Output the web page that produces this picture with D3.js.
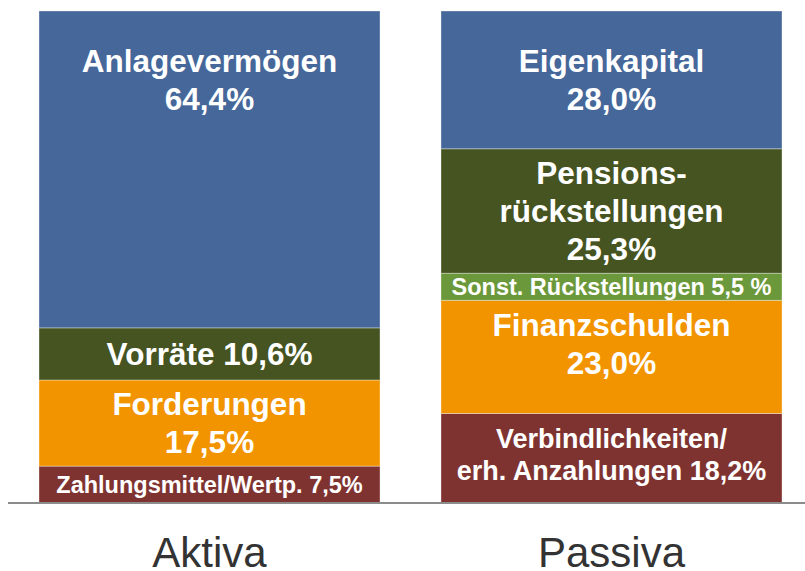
<!DOCTYPE html>
<html>
<head>
<meta charset="utf-8">
<script src="https://cdn.jsdelivr.net/npm/d3@7"></script>
<style>
  html, body { margin: 0; padding: 0; background: #fff; }
  svg { display: block; font-family: "Liberation Sans", Arial, sans-serif; }
</style>
</head>
<body>
<div id="chart"></div>
<script>
// columns
var columns = ["Aktiva", "Passiva"];

// segments per column, bottom to top (percent)
var aktivaNames = ["Zahlungsmittel/Wertp. 7,5%", "Forderungen\n17,5%", "Vorräte 10,6%", "Anlagevermögen\n64,4%"];
var aktivaValues = [7.5, 17.5, 10.6, 64.4];
var aktivaColors = ["#7f3330", "#f29400", "#455421", "#45679a"];

var passivaNames = ["Verbindlichkeiten/\nerh. Anzahlungen 18,2%", "Finanzschulden\n23,0%", "Sonst. Rückstellungen 5,5 %", "Pensions-\nrückstellungen\n25,3%", "Eigenkapital\n28,0%"];
var passivaValues = [18.2, 23.0, 5.5, 25.3, 28.0];
var passivaColors = ["#7f3330", "#f29400", "#6b983a", "#455421", "#45679a"];

var width = 805, height = 571;
var plotTop = 11, base = 503;

var svg = d3.select("#chart").append("svg")
  .attr("width", width)
  .attr("height", height);

var x = d3.scaleBand()
  .domain(columns)
  .range([39, 782])
  .paddingInner(0.1517)
  .paddingOuter(0);

var y = d3.scaleLinear()
  .domain([0, 100])
  .range([base, plotTop]);

function fontFor(name, v) {
  if (v < 8) return 23.5;            // thin slices get the small text
  if (name.indexOf("Verbindlichkeiten") === 0) return 27;
  return 31.5;
}

// labels sit a bit higher in some boxes of the original slide
function nudge(name) {
  if (name.indexOf("Finanzschulden") === 0) return -13;
  if (name.indexOf("Verbindlichkeiten") === 0) return -4;
  return 0;
}

function stack(col, names, values, colors) {
  var rows = [];
  var acc = 0;
  values.forEach(function (v, i) {
    rows.push({ col: col, name: names[i], v: v, y0: acc, y1: acc + v, color: colors[i] });
    acc += v;
  });
  return rows;
}

var segs = stack("Aktiva", aktivaNames, aktivaValues, aktivaColors)
  .concat(stack("Passiva", passivaNames, passivaValues, passivaColors));

svg.append("g").selectAll("rect")
  .data(segs).enter()
  .append("rect")
  .attr("x", function (d) { return x(d.col); })
  .attr("y", function (d) { return y(d.y1); })
  .attr("width", x.bandwidth())
  .attr("height", function (d) { return y(d.y0) - y(d.y1); })
  .attr("fill", function (d) { return d.color; })
  .attr("stroke", "rgba(255,255,255,0.35)")
  .attr("stroke-width", 1);

// labels
svg.append("g").selectAll("text")
  .data(segs).enter()
  .append("text")
  .attr("text-anchor", "middle")
  .attr("fill", "#fff")
  .attr("font-weight", "bold")
  .attr("font-size", function (d) { return fontFor(d.name, d.v); })
  .each(function (d) {
    var fs = fontFor(d.name, d.v);
    var lines = d.name.split("\n");
    var lh = fs * 1.2;
    var segTop = y(d.y1);
    var mid = Math.min((y(d.y0) + y(d.y1)) / 2, segTop + 69) + nudge(d.name);
    var cap = fs * 0.716;
    var first = mid - (lines.length - 1) * lh / 2 + cap / 2;
    var t = d3.select(this);
    lines.forEach(function (l, i) {
      t.append("tspan")
        .attr("x", x(d.col) + x.bandwidth() / 2)
        .attr("y", first + i * lh)
        .text(l);
    });
  });

// baseline
svg.append("line")
  .attr("x1", 8).attr("x2", width)
  .attr("y1", base).attr("y2", base)
  .attr("stroke", "#8c8c8c")
  .attr("stroke-width", 2);

// category axis
var xAxis = svg.append("g")
  .attr("transform", "translate(0," + base + ")")
  .call(d3.axisBottom(x).tickSize(0));
xAxis.select(".domain").remove();
xAxis.selectAll("text")
  .attr("y", 64)
  .attr("dy", 0)
  .attr("fill", "#333")
  .style("font-size", "42px")
  .style("font-family", "'Liberation Sans', Arial, sans-serif");
</script>
</body>
</html>
